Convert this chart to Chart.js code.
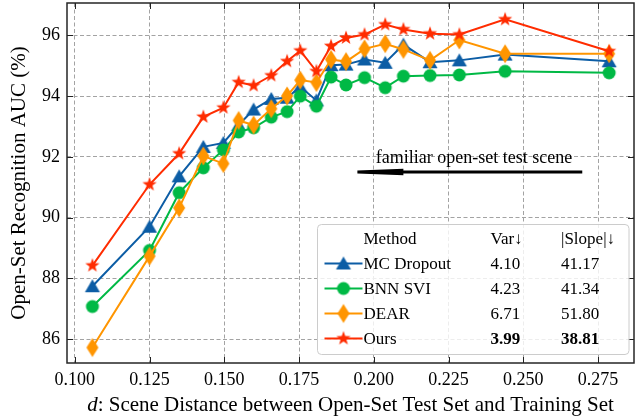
<!DOCTYPE html>
<html>
<head>
<meta charset="utf-8">
<script src="https://cdn.jsdelivr.net/npm/chart.js@4.4.1/dist/chart.umd.min.js"></script>
<style>
html,body{margin:0;padding:0;background:#fff;}
</style>
</head>
<body>
<canvas id="auc" width="637" height="419"></canvas>
<script>
// scene distance d (x) and AUC (%) per method
const distances=[0.1059,0.1250,0.1349,0.1430,0.1497,0.1548,0.1598,0.1657,0.1710,0.1754,0.1808,0.1857,0.1907,0.1969,0.2038,0.2099,0.2188,0.2286,0.2439,0.2787];
const mcDropout=[87.74,89.70,91.36,92.33,92.46,93.05,93.56,93.91,93.95,94.31,93.86,95.02,95.04,95.21,95.10,95.70,95.12,95.18,95.37,95.15];
const bnnSvi=[87.07,88.92,90.82,91.64,92.23,92.82,92.96,93.31,93.49,94.00,93.67,94.63,94.37,94.61,94.28,94.66,94.68,94.70,94.82,94.77];
const dear=[85.72,88.73,90.32,92.03,91.78,93.20,93.05,93.59,94.01,94.53,94.45,95.21,95.14,95.56,95.73,95.54,95.18,95.85,95.40,95.40];
const ours=[88.42,91.09,92.11,93.32,93.62,94.46,94.35,94.68,95.15,95.50,94.82,95.65,95.92,96.03,96.36,96.20,96.06,96.03,96.53,95.48];

const xTicks=[0.100,0.125,0.150,0.175,0.200,0.225,0.250,0.275];
const yTicks=[86,88,90,92,94,96];

const methods=['MC Dropout','BNN SVI','DEAR','Ours'];
const varScores=['4.10','4.23','6.71','3.99'];
const slopeScores=['41.17','41.34','51.80','38.81'];

const colors=['#0C5DA5','#00B945','#FF9500','#FF2C00'];
const serif='"Liberation Serif","Times New Roman",serif';

// marker images (matplotlib-like shapes)
function marker(kind,color){
  const c=document.createElement('canvas');
  c.width=22;c.height=22;
  const g=c.getContext('2d');
  g.translate(11,11);
  g.fillStyle=color;
  g.beginPath();
  if(kind==='tri'){
    g.moveTo(0,-7);g.lineTo(7.5,6);g.lineTo(-7.5,6);
  }else if(kind==='circle'){
    g.arc(0,0,6.5,0,Math.PI*2);
  }else if(kind==='diamond'){
    g.moveTo(0,-9.5);g.lineTo(6,0);g.lineTo(0,9.5);g.lineTo(-6,0);
  }else{
    for(let i=0;i<10;i++){
      const r=i%2?3:7.5;
      const a=-Math.PI/2+i*Math.PI/5;
      g.lineTo(Math.cos(a)*r,Math.sin(a)*r);
    }
  }
  g.closePath();
  g.fill();
  return c;
}
const markers=[marker('tri',colors[0]),marker('circle',colors[1]),marker('diamond',colors[2]),marker('star',colors[3])];

function pts(vals){
  return vals.map((v,i)=>({x:distances[i],y:v}));
}

const seriesList=[mcDropout,bnnSvi,dear,ours];
const datasets=seriesList.map((s,i)=>({
  label:methods[i],
  data:pts(s),
  showLine:true,
  borderColor:colors[i],
  backgroundColor:colors[i],
  borderWidth:2,
  pointStyle:markers[i],
  pointRadius:7,
  order:3-i
}));

// frame, inward ticks, annotation, x title and table legend
const decorate={
  id:'decorate',
  afterDatasetsDraw(chart){
    const {ctx,chartArea:a,scales:{x,y}}=chart;
    ctx.save();
    // annotation arrow
    const ay=y.getPixelForValue(91.50);
    const tail=x.getPixelForValue(0.2697);
    const tip=x.getPixelForValue(0.1945);
    ctx.strokeStyle='#000';ctx.fillStyle='#000';
    ctx.lineWidth=3;
    ctx.beginPath();ctx.moveTo(tail,ay);ctx.lineTo(tip+40,ay);ctx.stroke();
    ctx.beginPath();
    ctx.moveTo(tip,ay-1.5);ctx.lineTo(tip+46,ay-3.2);ctx.lineTo(tip+46,ay+3.2);ctx.lineTo(tip,ay+1.5);
    ctx.closePath();ctx.fill();
    ctx.font='18px '+serif;
    ctx.textAlign='center';ctx.textBaseline='alphabetic';
    ctx.fillText('familiar open-set test scene',x.getPixelForValue(0.2335),y.getPixelForValue(91.80));

    // ticks pointing in
    ctx.lineWidth=1;
    ctx.strokeStyle='#222';
    ctx.beginPath();
    xTicks.forEach(v=>{
      const px=Math.round(x.getPixelForValue(v))+0.5;
      ctx.moveTo(px,a.bottom);ctx.lineTo(px,a.bottom-6);
      ctx.moveTo(px,a.top);ctx.lineTo(px,a.top+6);
    });
    yTicks.forEach(v=>{
      const py=Math.round(y.getPixelForValue(v))+0.5;
      ctx.moveTo(a.left,py);ctx.lineTo(a.left+6,py);
      ctx.moveTo(a.right,py);ctx.lineTo(a.right-6,py);
    });
    ctx.stroke();
    // spines
    ctx.lineWidth=1.5;
    ctx.strokeStyle='#262626';
    ctx.strokeRect(a.left,a.top,a.right-a.left,a.bottom-a.top);

    // x axis title with italic d
    const t1='d',t2=': Scene Distance between Open-Set Test Set and Training Set';
    ctx.fillStyle='#000';
    ctx.textAlign='left';
    ctx.font='italic 21px '+serif;
    const w1=ctx.measureText(t1).width;
    ctx.font='21px '+serif;
    const w2=ctx.measureText(t2).width;
    const sx=(a.left+a.right)/2-(w1+w2)/2;
    const by=411;
    ctx.font='italic 21px '+serif;
    ctx.fillText(t1,sx,by);
    ctx.font='21px '+serif;
    ctx.fillText(t2,sx+w1,by);
    ctx.restore();
  },
  afterDraw(chart){
    const {ctx,chartArea:a}=chart;
    const bx=a.left+250.5,bt=224.5;
    const bw=a.right-5-bx,bh=a.bottom-8.5-bt;
    ctx.save();
    ctx.beginPath();
    ctx.roundRect(bx,bt,bw,bh,4);
    ctx.fillStyle='rgba(255,255,255,0.8)';
    ctx.fill();
    ctx.strokeStyle='#cccccc';
    ctx.lineWidth=1;
    ctx.stroke();

    ctx.fillStyle='#000';
    ctx.textAlign='left';
    ctx.textBaseline='alphabetic';
    ctx.font='17px '+serif;
    ctx.fillText('Method',bx+46,bt+19);
    ctx.fillText('Var\u2193',bx+173,bt+19);
    ctx.fillText('|Slope|\u2193',bx+243.5,bt+19);
    methods.forEach((m,i)=>{
      const base=bt+44.5+i*25;
      const cy=base-5.5;
      ctx.strokeStyle=colors[i];
      ctx.lineWidth=2;
      ctx.beginPath();ctx.moveTo(bx+7,cy);ctx.lineTo(bx+45,cy);ctx.stroke();
      ctx.drawImage(markers[i],bx+26-11,cy-11);
      ctx.fillStyle='#000';
      ctx.font='17px '+serif;
      ctx.fillText(m,bx+46,base);
      ctx.font=(i===3?'bold ':'')+'17px '+serif;
      ctx.fillText(varScores[i],bx+173,base);
      ctx.fillText(slopeScores[i],bx+243.5,base);
    });
    ctx.restore();
  }
};

new Chart(document.getElementById('auc'),{
  type:'scatter',
  data:{datasets},
  options:{
    responsive:false,
    animation:false,
    layout:{autoPadding:false,padding:{top:3,right:3,left:0,bottom:0}},
    plugins:{legend:{display:false},tooltip:{enabled:false}},
    scales:{
      x:{
        type:'linear',min:0.0974,max:0.2870,
        afterBuildTicks:s=>{s.ticks=xTicks.map(v=>({value:v}));},
        afterFit:s=>{s.height=56;s.paddingLeft=0;s.paddingRight=0;},
        grid:{color:'#a3a3a3',lineWidth:1,drawTicks:false},
        border:{display:false,dash:[4,2.5]},
        ticks:{padding:6,color:'#000',maxRotation:0,font:{family:serif,size:18},callback:v=>v.toFixed(3)}
      },
      y:{
        type:'linear',min:85.21,max:97.07,
        afterBuildTicks:s=>{s.ticks=yTicks.map(v=>({value:v}));},
        afterFit:s=>{s.width=67;s.paddingTop=0;s.paddingBottom=0;},
        grid:{color:'#a3a3a3',lineWidth:1,drawTicks:false},
        border:{display:false,dash:[4,2.5]},
        ticks:{padding:7,color:'#000',font:{family:serif,size:18},callback:v=>String(v)},
        title:{display:true,text:'Open-Set Recognition AUC (%)',color:'#000',font:{family:serif,size:21},padding:{top:6.5,bottom:0}}
      }
    }
  },
  plugins:[decorate]
});
</script>
</body>
</html>
